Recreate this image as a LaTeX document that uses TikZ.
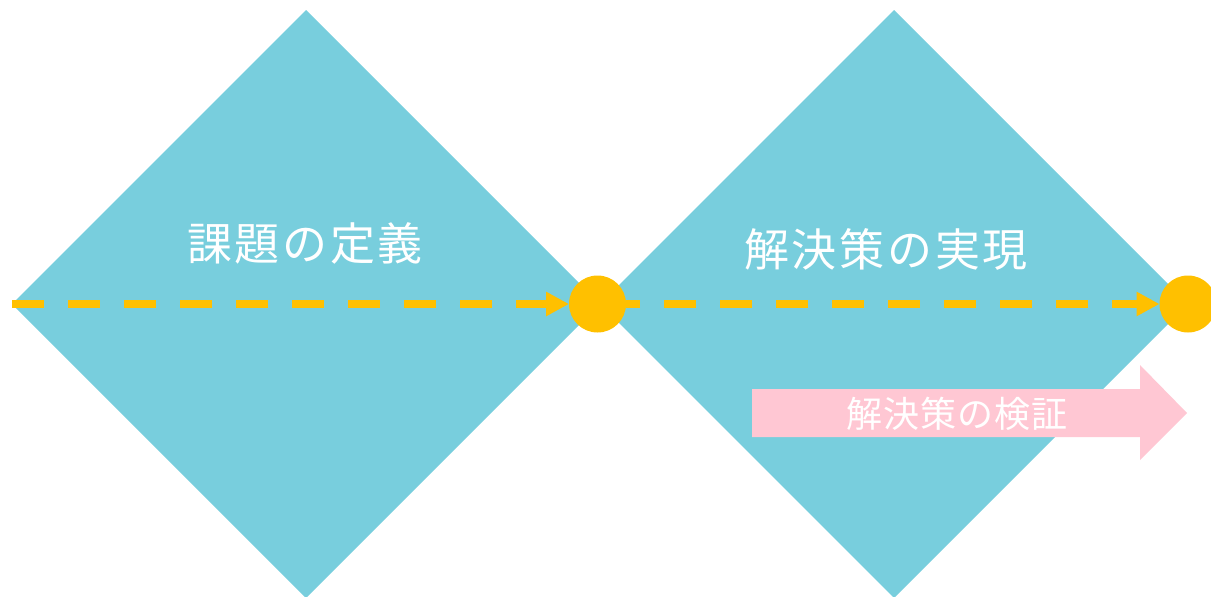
\documentclass[tikz,border=0pt]{standalone}
\usepackage{fontspec}
\newfontfamily\jpfont{Noto Sans CJK JP}[LetterSpace=6]
\newfontfamily\jpsubfont{Noto Sans CJK JP}[LetterSpace=3]
\usetikzlibrary{shapes.geometric,arrows.meta}
\definecolor{phasecol}{RGB}{120,206,221}
\definecolor{flowcol}{RGB}{255,192,0}
\definecolor{checkcol}{RGB}{255,199,211}
\tikzset{
  phase/.style={diamond,fill=phasecol,inner sep=0pt,outer sep=0pt,minimum size=588pt},
  goal/.style={circle,fill=flowcol,inner sep=0pt,outer sep=0pt,minimum size=57pt},
  flow/.style={draw=flowcol,line width=8pt,dash pattern=on 32pt off 24pt,-{Triangle[length=23pt,width=23pt]}},
  title/.style={text=white,font=\jpfont\fontsize{45}{54}\selectfont,inner sep=0pt},
  subtitle/.style={text=white,font=\jpsubfont\fontsize{36}{43}\selectfont,inner sep=0pt},
}
\begin{document}
\begin{tikzpicture}[x=1pt,y=-1pt]
\useasboundingbox (0,0) rectangle (1211,597);
%%
  % Node: define
  \node[phase] (define) at (306,304) {};
  % Node: realize
  \node[phase] (realize) at (894,304) {};
  \node[title] (definetext) at (305,243) {課題の定義};
  \node[title] (realizetext) at (886,249) {解決策の実現};
  % Node: check
  \fill[checkcol] (752,389) -- (1140,389) -- (1140,365) -- (1187,413)
    -- (1140,460) -- (1140,437) -- (752,437) -- cycle;
  \node[subtitle] (checktext) at (957,414) {解決策の検証};
  % Node: goal1, goal2
  \node[goal] (goal1) at (597.5,304) {};
  \node[goal] (goal2) at (1188,304) {};
  \coordinate (start) at (12,304);
  % Edge: start -> goal1
  \draw[flow] (start) -- (goal1);
  % Edge: goal1 -> goal2
  \draw[flow,dash phase=18pt] (goal1) -- (goal2);
%
\end{tikzpicture}
\end{document}
